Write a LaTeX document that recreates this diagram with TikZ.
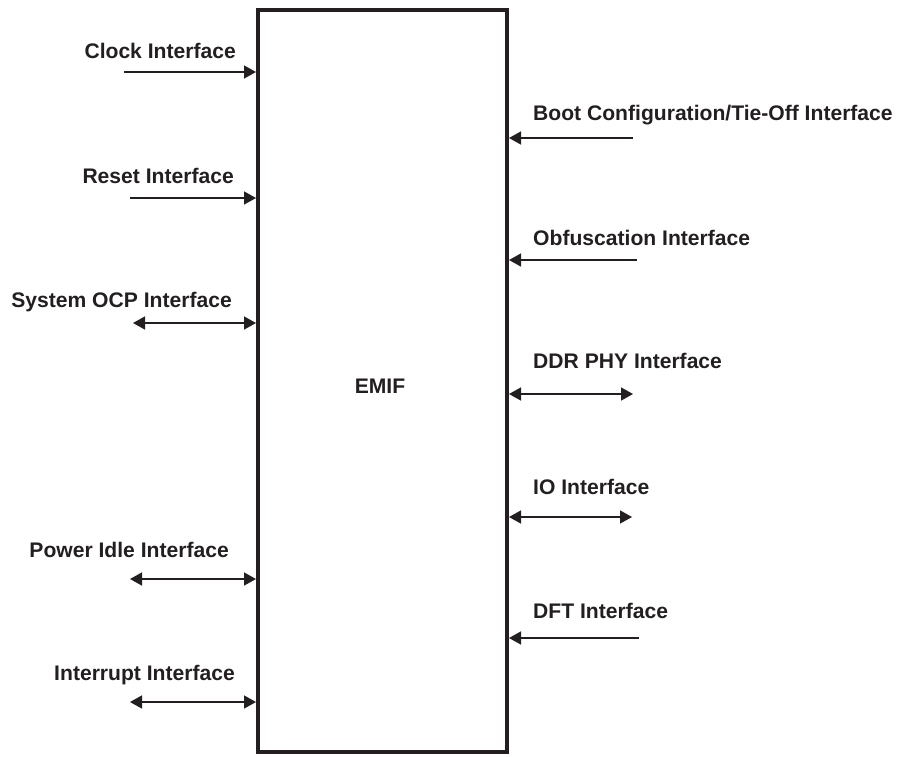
\documentclass[tikz,border=0pt]{standalone}
\usepackage{fontspec}
\setmainfont{Liberation Sans}
\usetikzlibrary{arrows.meta}
\definecolor{ink}{HTML}{231F20}
\tikzset{
  lbl/.style={font=\bfseries\fontsize{21.1}{24}\selectfont, text=ink, inner sep=0pt},
  lblL/.style={lbl, anchor=base east},
  lblR/.style={lbl, anchor=base west},
  sig/.style={draw=ink, line width=1.5pt},
  tin/.style={sig, -{Triangle[length=12pt,width=13pt]}},
  tbi/.style={sig, {Triangle[length=12pt,width=13pt]}-{Triangle[length=12pt,width=13pt]}},
  blk/.style={draw=ink, line width=4pt, minimum width=249pt, minimum height=742pt, inner sep=0pt}
}
\begin{document}
\begin{tikzpicture}[x=1pt,y=-1pt]
\useasboundingbox (0,0) rectangle (899,756);
\node[blk] (box) at (382.5,381) {};
\node[lbl, anchor=base] (emif) at (380,393) {EMIF};

% left side
\node[lblL] (tclk) at (236,58) {Clock Interface};
\coordinate (cclk) at (124,72);
\draw[tin] (cclk) -- (cclk -| box.west);

\node[lblL] (trst) at (234,183) {Reset Interface};
\coordinate (crst) at (130,198);
\draw[tin] (crst) -- (crst -| box.west);

\node[lblL] (tocp) at (232,307) {System OCP Interface};
\coordinate (cocp) at (133,323);
\draw[tbi] (cocp) -- (cocp -| box.west);

\node[lblL] (tpwr) at (229,557) {Power Idle Interface};
\coordinate (cpwr) at (130,579);
\draw[tbi] (cpwr) -- (cpwr -| box.west);

\node[lblL] (tirq) at (235,680) {Interrupt Interface};
\coordinate (cirq) at (130,702);
\draw[tbi] (cirq) -- (cirq -| box.west);

% right side
\node[lblR] (tboot) at (533,120) {Boot Configuration/Tie-Off Interface};
\coordinate (cboot) at (633,138);
\draw[tin] (cboot) -- (cboot -| box.east);

\node[lblR] (tobf) at (533,245) {Obfuscation Interface};
\coordinate (cobf) at (637,260);
\draw[tin] (cobf) -- (cobf -| box.east);

\node[lblR] (tddr) at (533,368) {DDR PHY Interface};
\coordinate (cddr) at (633,394);
\draw[tbi] (cddr -| box.east) -- (cddr);

\node[lblR] (tio) at (533,494) {IO Interface};
\coordinate (cio) at (632,517);
\draw[tbi] (cio -| box.east) -- (cio);

\node[lblR] (tdft) at (533,618) {DFT Interface};
\coordinate (cdft) at (639,638);
\draw[tin] (cdft) -- (cdft -| box.east);
\end{tikzpicture}
\end{document}
